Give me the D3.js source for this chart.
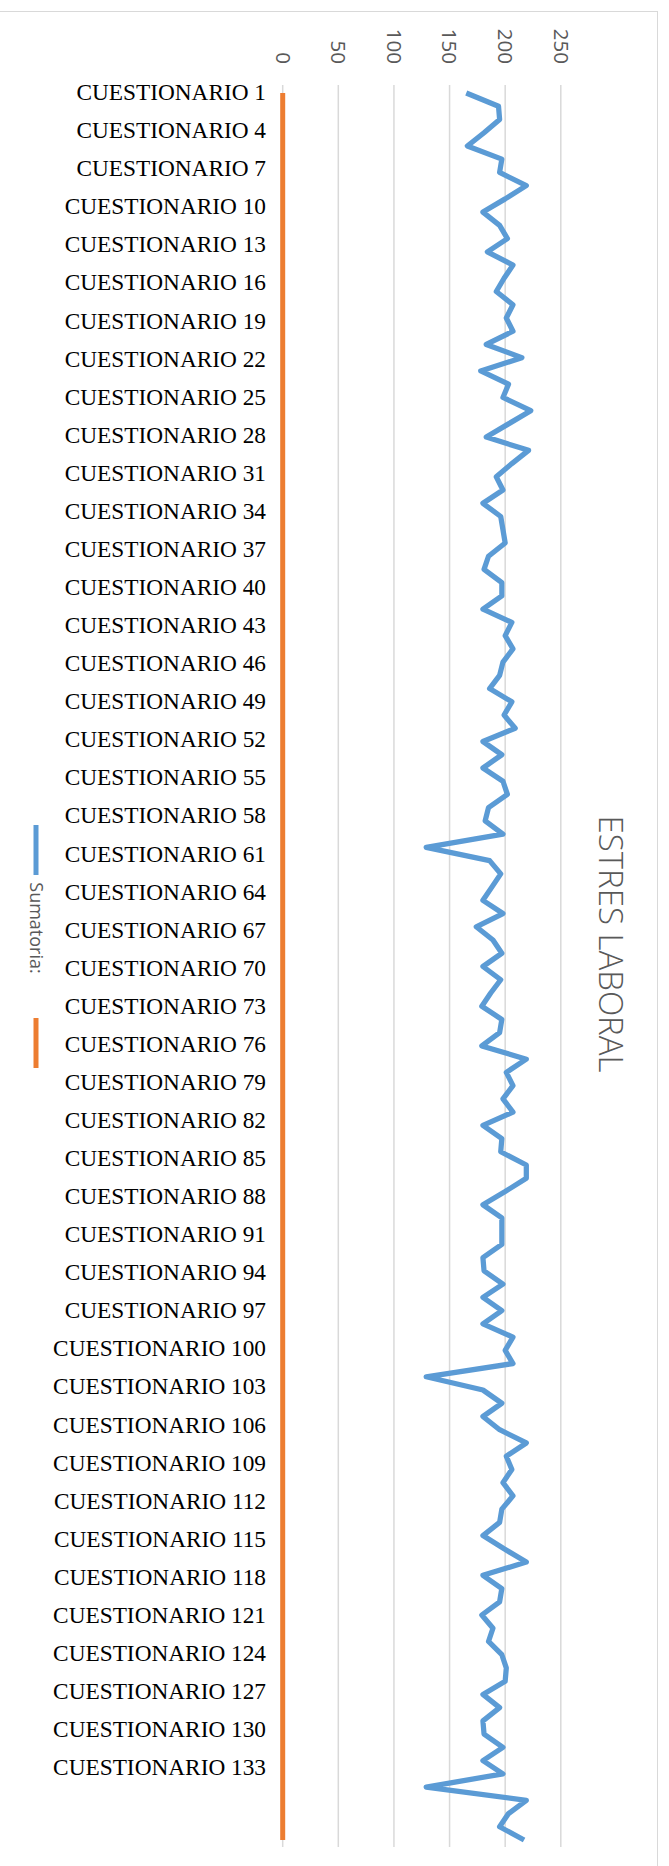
<!DOCTYPE html>
<html>
<head>
<meta charset="utf-8">
<script src="https://cdn.jsdelivr.net/npm/d3@7"></script>
<style>
    body { margin: 0; background: #fff; }
    #chart-area { width: 669px; height: 1866px; }
</style>
</head>
<body>
<div id="chart-area"></div>
<script>

// Sumatoria por cuestionario
var sumatoria = [
    165,194,195,181,166,197,195,219,200,180,
    195,202,184,207,199,192,207,201,207,183,
    215,178,203,198,223,203,183,221,206,192,
    198,180,196,198,200,185,181,197,197,180,
    206,200,207,198,195,186,206,199,209,180,
    197,180,198,202,185,182,198,129,186,196,
    188,180,198,174,189,197,180,196,187,179,
    197,195,179,219,201,207,198,207,180,197,
    196,219,219,200,180,197,197,197,180,181,
    198,180,197,180,207,200,207,129,180,197,
    180,195,219,201,206,198,207,197,195,180,
    199,219,180,197,195,179,189,185,197,201,
    200,180,195,180,181,198,180,198,129,219,
    203,195,217
];

// second series, flat at zero
var serie2 = new Array(sumatoria.length).fill(0);

// value axis ticks
var valueTicks = [0, 50, 100, 150, 200, 250];

// category labels shown on the axis (every 3rd)
var categoryLabels = d3.range(1, 134, 3).map(function(n) { return "CUESTIONARIO " + n; });

var legendNames = ["Sumatoria:", ""];
var chartTitle = "ESTRES LABORAL";


EstresChart = function(_parentElement, _data, _data2){
    this.parentElement = _parentElement;
    this.data = _data;
    this.data2 = _data2;
    this.initVis();
};

EstresChart.prototype.initVis = function(){
    var vis = this;

    vis.width = 669;
    vis.height = 1866;

    vis.svg = d3.select("#" + vis.parentElement).append("svg")
        .attr("width", vis.width)
        .attr("height", vis.height)
        .style("display", "block");

    // chart border
    vis.svg.append("rect")
        .attr("x", -2).attr("y", 11.5)
        .attr("width", 659.5).attr("height", 1900)
        .attr("fill", "#fff")
        .attr("stroke", "#d9d9d9")
        .attr("stroke-width", 1);

    // values run left -> right, categories top -> bottom (chart turned 90deg)
    vis.x = d3.scaleLinear()
        .domain([0, 250])
        .range([282.7, 560.8]);

    vis.y = d3.scalePoint()
        .domain(d3.range(vis.data.length))
        .range([93, 1840]);

    vis.yLabels = d3.scalePoint()
        .domain(categoryLabels)
        .range([92, 1767]);

    vis.wrangleData();
};

EstresChart.prototype.wrangleData = function(){
    var vis = this;

    vis.series1 = vis.data.map(function(d, i) { return { i: i, v: d }; });
    vis.series2 = vis.data2.map(function(d, i) { return { i: i, v: d }; });

    vis.updateVis();
};

EstresChart.prototype.updateVis = function(){
    var vis = this;

    // gridlines
    vis.svg.selectAll(".grid")
        .data(valueTicks)
        .enter().append("line")
        .attr("class", "grid")
        .attr("x1", function(d) { return vis.x(d); })
        .attr("x2", function(d) { return vis.x(d); })
        .attr("y1", 85)
        .attr("y2", 1847)
        .attr("stroke", "#d9d9d9")
        .attr("stroke-width", 1.5);

    // value tick labels (rotated)
    vis.svg.selectAll(".tick-label")
        .data(valueTicks)
        .enter().append("text")
        .attr("class", "tick-label")
        .attr("transform", function(d) { return "translate(" + vis.x(d) + ",64) rotate(90)"; })
        .attr("text-anchor", "end")
        .attr("dy", "0.35em")
        .attr("fill", "#595959")
        .style("font-family", "'Open Sans', sans-serif")
        .style("font-size", "20.5px")
        .text(function(d) { return d; });

    // category labels
    vis.svg.selectAll(".cat-label")
        .data(categoryLabels)
        .enter().append("text")
        .attr("class", "cat-label")
        .attr("transform", function(d) { return "translate(266," + vis.yLabels(d) + ")"; })
        .attr("text-anchor", "end")
        .attr("dy", "0.35em")
        .attr("fill", "#000")
        .style("font-family", "'Liberation Serif', 'Times New Roman', serif")
        .style("font-size", "23.3px")
        .text(function(d) { return d; });

    var line = d3.line()
        .x(function(d) { return vis.x(d.v); })
        .y(function(d) { return vis.y(d.i); });

    vis.svg.append("path")
        .datum(vis.series2)
        .attr("d", line)
        .attr("fill", "none")
        .attr("stroke", "#ED7D31")
        .attr("stroke-width", 5);

    vis.svg.append("path")
        .datum(vis.series1)
        .attr("d", line)
        .attr("fill", "none")
        .attr("stroke", "#5B9BD5")
        .attr("stroke-width", 5.25)
        .attr("stroke-linejoin", "round");

    // title
    vis.svg.append("text")
        .attr("transform", "translate(611,944) rotate(90)")
        .attr("text-anchor", "middle")
        .attr("dy", "0.35em")
        .attr("fill", "#595959")
        .style("font-family", "'Open Sans', sans-serif")
        .style("font-weight", 300)
        .style("font-size", "33px")
        .text(chartTitle);

    // legend
    var legendColors = ["#5B9BD5", "#ED7D31"];
    var legendY = [[825, 875], [1018, 1068]];
    legendColors.forEach(function(c, k) {
        vis.svg.append("line")
            .attr("x1", 36).attr("x2", 36)
            .attr("y1", legendY[k][0]).attr("y2", legendY[k][1])
            .attr("stroke", c)
            .attr("stroke-width", 5);
    });
    vis.svg.append("text")
        .attr("transform", "translate(36,928) rotate(90)")
        .attr("text-anchor", "middle")
        .attr("dy", "0.35em")
        .attr("fill", "#595959")
        .style("font-family", "'Open Sans', sans-serif")
        .style("font-size", "18px")
        .text(legendNames[0]);
};

var chart = new EstresChart("chart-area", sumatoria, serie2);

</script>
</body>
</html>
